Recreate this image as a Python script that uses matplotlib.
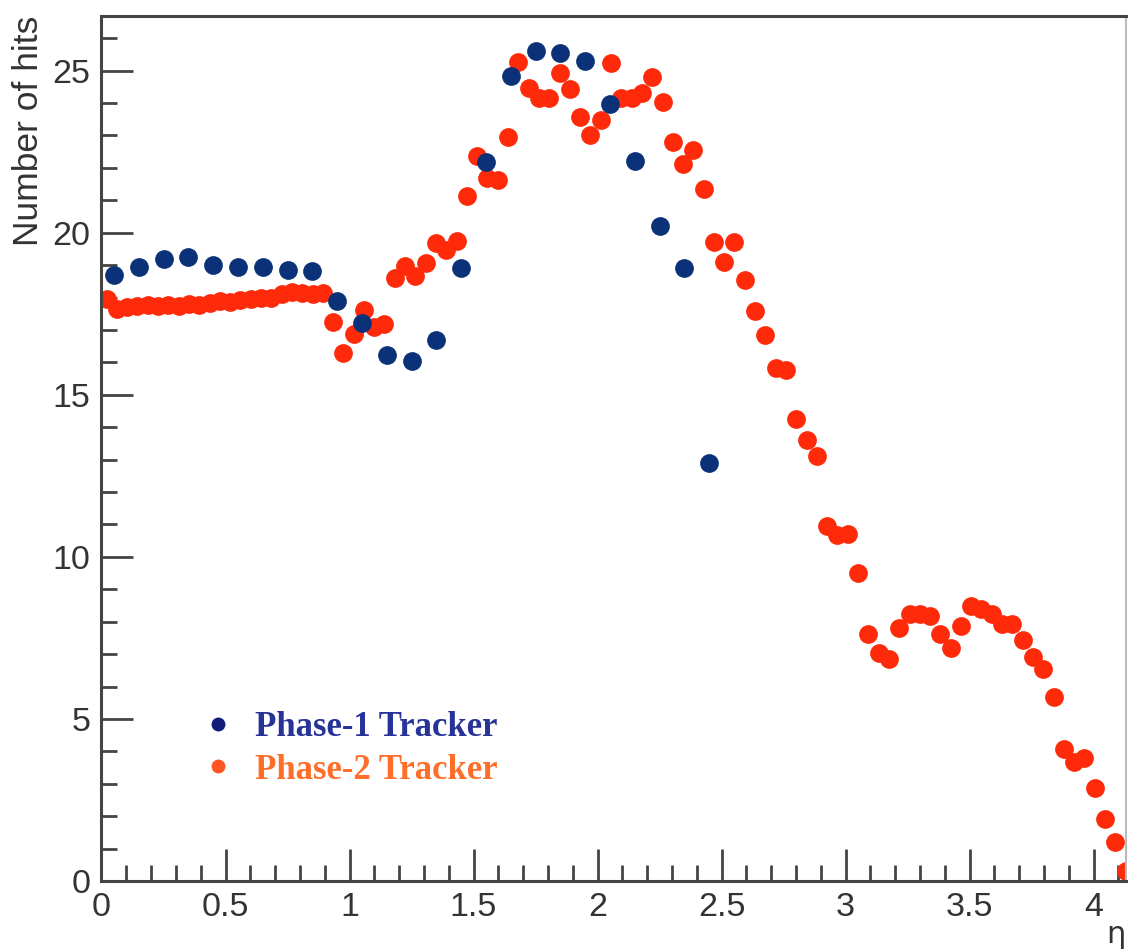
import matplotlib
matplotlib.use("Agg")
import matplotlib.pyplot as plt
from matplotlib.lines import Line2D

# Phase-1 tracker: bin centres (eta) and mean number of hits
phase1_eta = [0.05, 0.15, 0.25, 0.35, 0.45, 0.55, 0.65, 0.75, 0.85, 0.95,
              1.05, 1.15, 1.25, 1.35, 1.45, 1.55, 1.65, 1.75, 1.85, 1.95,
              2.05, 2.15, 2.25, 2.35, 2.45]
phase1_hits = [18.70, 18.94, 19.19, 19.24, 19.01, 18.93, 18.93, 18.86, 18.81, 17.90,
               17.21, 16.23, 16.05, 16.68, 18.91, 22.19, 24.82, 25.60, 25.54, 25.29,
               23.98, 22.22, 20.22, 18.90, 12.91]

# Phase-2 tracker
phase2_eta = [0.021, 0.062, 0.104, 0.145, 0.187, 0.228, 0.270, 0.311, 0.353, 0.394,
              0.436, 0.477, 0.519, 0.560, 0.602, 0.643, 0.685, 0.726, 0.768, 0.809,
              0.851, 0.892, 0.934, 0.975, 1.017, 1.058, 1.100, 1.141, 1.183, 1.224,
              1.266, 1.307, 1.349, 1.390, 1.432, 1.473, 1.515, 1.556, 1.598, 1.639,
              1.681, 1.722, 1.764, 1.805, 1.847, 1.888, 1.930, 1.971, 2.013, 2.054,
              2.096, 2.137, 2.179, 2.220, 2.262, 2.303, 2.345, 2.386, 2.428, 2.469,
              2.511, 2.552, 2.594, 2.635, 2.677, 2.718, 2.760, 2.801, 2.843, 2.884,
              2.926, 2.967, 3.009, 3.050, 3.092, 3.133, 3.175, 3.216, 3.258, 3.299,
              3.341, 3.382, 3.424, 3.465, 3.507, 3.548, 3.590, 3.631, 3.673, 3.714,
              3.756, 3.797, 3.839, 3.880, 3.922, 3.963, 4.005, 4.046, 4.088, 4.129]
phase2_hits = [17.95, 17.65, 17.72, 17.75, 17.78, 17.75, 17.77, 17.73, 17.80, 17.76,
               17.82, 17.90, 17.85, 17.92, 17.95, 18.00, 17.98, 18.10, 18.18, 18.15,
               18.12, 18.15, 17.23, 16.29, 16.87, 17.62, 17.09, 17.19, 18.60, 18.98,
               18.65, 19.08, 19.68, 19.47, 19.75, 21.12, 22.38, 21.69, 21.64, 22.94,
               25.27, 24.47, 24.16, 24.16, 24.93, 24.44, 23.57, 23.02, 23.49, 25.24,
               24.16, 24.16, 24.31, 24.81, 24.02, 22.79, 22.13, 22.54, 21.35, 19.70,
               19.11, 19.70, 18.55, 17.57, 16.85, 15.82, 15.77, 14.25, 13.61, 13.12,
               10.94, 10.66, 10.72, 9.50, 7.62, 7.02, 6.84, 7.82, 8.24, 8.24,
               8.19, 7.62, 7.20, 7.88, 8.49, 8.39, 8.24, 7.93, 7.93, 7.43,
               6.90, 6.53, 5.68, 4.06, 3.68, 3.81, 2.86, 1.90, 1.19, 0.31]

x_ticks = [0, 0.5, 1, 1.5, 2, 2.5, 3, 3.5, 4]
x_tick_labels = ["0", "0.5", "1", "1.5", "2", "2.5", "3", "3.5", "4"]
y_ticks = [0, 5, 10, 15, 20, 25]
y_tick_labels = ["0", "5", "10", "15", "20", "25"]

blue = "#0b3278"
red = "#ff2a0a"
axis_grey = "#444444"

fig = plt.figure(figsize=(11.29, 9.51), dpi=100)
ax = fig.add_axes([0.0899, 0.0736, 0.9075, 0.9101])

ax.plot(phase2_eta, phase2_hits, "o", ms=13.5, color=red, mec="none", zorder=2)
ax.plot(phase1_eta, phase1_hits, "o", ms=13.5, color=blue, mec="none", zorder=3)

ax.set_xlim(0, 4.131)
ax.set_ylim(0, 26.7)

ax.set_xticks(x_ticks)
ax.set_xticklabels(x_tick_labels)
ax.set_xticks([i / 10 for i in range(42)], minor=True)
ax.set_yticks(y_ticks)
ax.set_yticklabels(y_tick_labels)
ax.set_yticks(list(range(27)), minor=True)

ax.tick_params(which="both", direction="in", width=2.0, color=axis_grey,
               labelsize=24.5, labelcolor="#333333", pad=8,
               top=False, right=False)
ax.tick_params(which="major", length=23)
ax.tick_params(which="minor", length=11.5)
for lab in ax.get_xticklabels() + ax.get_yticklabels():
    lab.set_family("Liberation Sans")

for side in ["left", "bottom", "top"]:
    ax.spines[side].set_linewidth(2.2)
    ax.spines[side].set_color(axis_grey)
ax.spines["right"].set_linewidth(1.5)
ax.spines["right"].set_color("#bbbbbb")

ax.set_ylabel("Number of hits", loc="top", fontsize=25.5, color="#333333",
              family="Liberation Sans")
ax.yaxis.set_label_coords(-0.055, 1.0)

# eta label sits in the bottom-right corner, right-aligned so it stays inside
ax.set_xlabel("η", loc="right", fontsize=22, color="#333333", family="DejaVu Sans")
ax.xaxis.set_label_coords(1.0, -0.045)

handles = [Line2D([], [], ls="none", marker="o", ms=10, color="#101c7a", mec="none"),
           Line2D([], [], ls="none", marker="o", ms=10, color="#ff5522", mec="none")]
leg = ax.legend(handles, ["Phase-1 Tracker", "Phase-2 Tracker"],
                loc="upper left", bbox_to_anchor=(0.1795, 0.2525),
                bbox_transform=fig.transFigure, frameon=False,
                borderpad=0, borderaxespad=0, handlelength=0.9,
                handletextpad=0.6, labelspacing=0.28,
                prop={"family": "Liberation Serif", "weight": "bold", "size": 25})
for txt, c in zip(leg.get_texts(), ["#28339a", "#ff6e28"]):
    txt.set_color(c)

fig.savefig("out.png", dpi=100)
